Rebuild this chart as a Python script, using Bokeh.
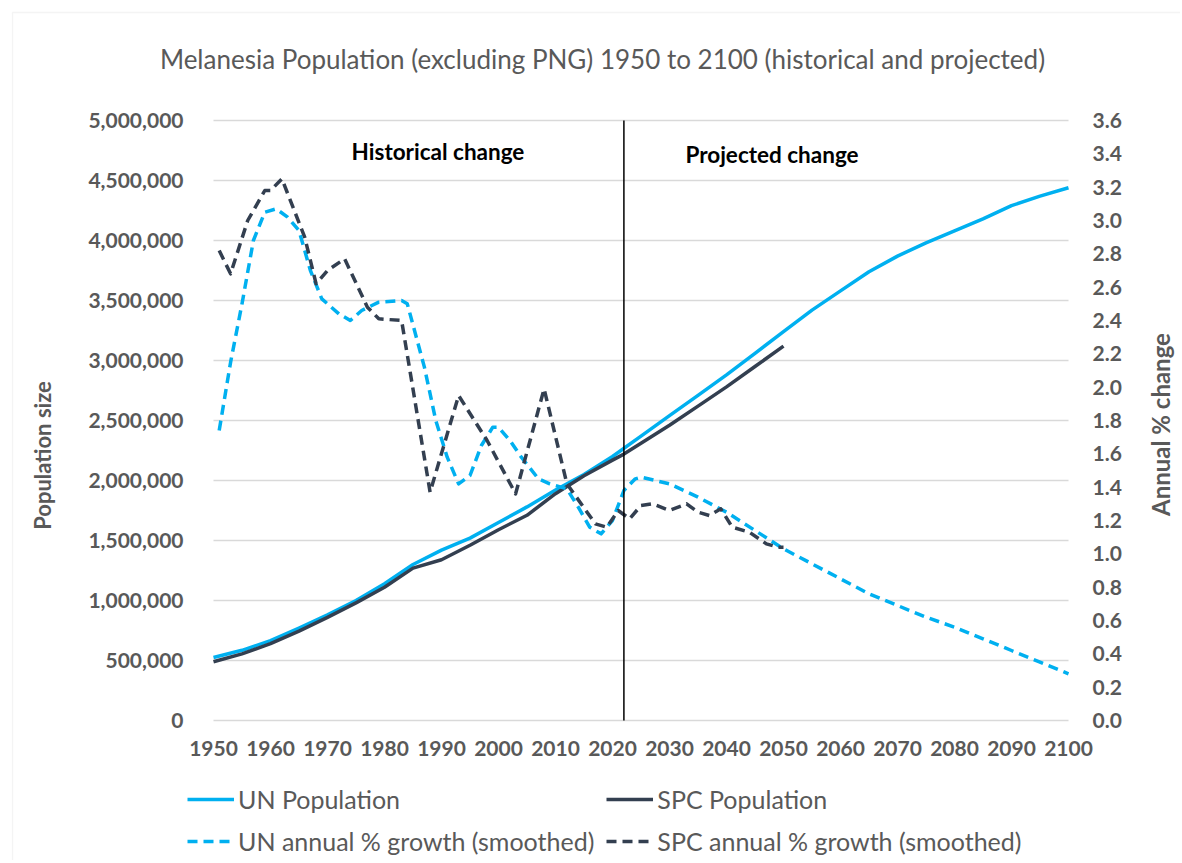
import math
from bokeh.plotting import figure
from bokeh.models import (Range1d, LinearAxis, FixedTicker, NumeralTickFormatter,
                          Label, Legend, LegendItem, BoxAnnotation)
from bokeh.embed import file_html
from bokeh.resources import INLINE

TITLE = "Melanesia Population (excluding PNG) 1950 to 2100 (historical and projected)"
LEFT_TITLE = "Population size"
RIGHT_TITLE = "Annual % change"

un_pop_years = [1950, 1955, 1960, 1965, 1970, 1975, 1980, 1985, 1990, 1995, 2000, 2005, 2010,
                2015, 2020, 2025, 2030, 2035, 2040, 2045, 2050, 2055, 2060, 2065, 2070, 2075,
                2080, 2085, 2090, 2095, 2100]
un_pop = [525000, 585000, 665000, 770000, 880000, 1000000, 1140000, 1300000, 1420000, 1520000,
          1650000, 1780000, 1920000, 2050000, 2200000, 2370000, 2540000, 2710000, 2880000,
          3060000, 3240000, 3420000, 3580000, 3740000, 3870000, 3980000, 4080000, 4180000,
          4290000, 4370000, 4440000]

spc_pop_years = [1950, 1955, 1960, 1965, 1970, 1975, 1980, 1985, 1990, 1995, 2000, 2005, 2010,
                 2015, 2020, 2022, 2025, 2030, 2035, 2040, 2045, 2050]
spc_pop = [490000, 555000, 640000, 745000, 860000, 980000, 1110000, 1270000, 1340000, 1460000,
           1590000, 1710000, 1890000, 2040000, 2170000, 2220000, 2310000, 2460000, 2620000,
           2780000, 2950000, 3120000]

un_rate_years = [1951, 1953, 1955, 1957, 1959, 1961, 1963, 1965, 1967, 1969, 1972, 1974, 1976,
                 1979, 1983, 1984, 1987, 1989, 1991, 1993, 1995, 1997, 1999, 2000, 2002, 2004,
                 2007, 2009, 2012, 2014, 2016, 2018, 2020, 2022, 2024, 2025, 2030, 2035, 2040,
                 2045, 2050, 2055, 2060, 2065, 2070, 2075, 2080, 2085, 2090, 2095, 2100]
un_rate = [1.74, 2.15, 2.50, 2.88, 3.05, 3.07, 3.02, 2.94, 2.70, 2.53, 2.44, 2.40, 2.46,
           2.51, 2.52, 2.50, 2.12, 1.80, 1.58, 1.42, 1.47, 1.65, 1.76, 1.76, 1.68, 1.58,
           1.45, 1.42, 1.39, 1.28, 1.16, 1.12, 1.20, 1.38, 1.45, 1.46, 1.42, 1.34, 1.25,
           1.14, 1.03, 0.94, 0.85, 0.76, 0.69, 0.62, 0.56, 0.49, 0.42, 0.35, 0.28]

spc_rate_years = [1951, 1953, 1956, 1959, 1960, 1962, 1966, 1968, 1970, 1973, 1977, 1979, 1983,
                  1988, 1993, 1998, 2003, 2008, 2012, 2017, 2019, 2021, 2023, 2025, 2027, 2030,
                  2033, 2035, 2037, 2039, 2041, 2044, 2047, 2049, 2050]
spc_rate = [2.82, 2.68, 3.00, 3.18, 3.18, 3.25, 2.90, 2.62, 2.70, 2.77, 2.48, 2.41, 2.40,
            1.37, 1.95, 1.68, 1.36, 1.99, 1.42, 1.18, 1.16, 1.26, 1.21, 1.29, 1.30, 1.26,
            1.30, 1.25, 1.23, 1.27, 1.16, 1.13, 1.06, 1.04, 1.04]

x_ticks = list(range(1950, 2101, 10))
left_ticks = list(range(0, 5000001, 500000))
right_ticks = [round(i * 0.2, 1) for i in range(19)]
divider_year = 2022

series_labels = ["UN Population", "SPC Population",
                 "UN annual % growth (smoothed)", "SPC annual % growth (smoothed)"]

UN_BLUE = "#00B0F0"
SPC_NAVY = "#333F50"
GREY = "#595959"
GRID = "#D9D9D9"
FONT = "Lato"
LW = 3.5
DASH = "10 6"

# ---- canvas geometry (pixels): the plotting area sits at x 213..1068, y 120..720 ----
W, H = 1180, 860
AREA_L, AREA_R, AREA_T, AREA_B = 213, 1068, 120, 720
X0, X1 = x_ticks[0], x_ticks[-1]
Y1 = left_ticks[-1]
R1 = right_ticks[-1]
px_year = (AREA_R - AREA_L) / (X1 - X0)
pop_px = Y1 / (AREA_B - AREA_T)
rate_px = R1 / (AREA_B - AREA_T)

x_range = Range1d(X0 - AREA_L / px_year, X1 + (W - AREA_R) / px_year)
y_range = Range1d(-(H - AREA_B) * pop_px, Y1 + AREA_T * pop_px)
rate_range = Range1d(-(H - AREA_B) * rate_px, R1 + AREA_T * rate_px)


def px_to_year(px):
    return X0 + (px - AREA_L) / px_year


def px_to_pop(py):
    return (AREA_B - py) * pop_px


def px_to_rate(py):
    return (AREA_B - py) * rate_px


p = figure(width=W, height=H, x_range=x_range, y_range=y_range,
           output_backend="svg", toolbar_location=None, min_border=0)
p.extra_y_ranges = {"rate": rate_range}
p.outline_line_color = None
p.background_fill_color = "white"
p.border_fill_color = "white"
p.title.visible = False

# light chart-area border (top and left edges visible, as in the source image)
p.add_layout(BoxAnnotation(left=px_to_year(12), top=px_to_pop(12),
                           right=x_range.end + 50, bottom=y_range.start - 2000000,
                           fill_alpha=0, line_color=GRID, line_width=1.3))

xa = p.xaxis[0]
xa.ticker = FixedTicker(ticks=x_ticks)
xa.fixed_location = 0
ya = p.yaxis[0]
ya.ticker = FixedTicker(ticks=left_ticks)
ya.formatter = NumeralTickFormatter(format="0,0")
ya.fixed_location = X0
ra = LinearAxis(y_range_name="rate", ticker=FixedTicker(ticks=right_ticks),
                formatter=NumeralTickFormatter(format="0.0"), fixed_location=X1)
p.add_layout(ra, "right")

for ax in (xa, ya, ra):
    ax.axis_line_color = None
    ax.major_tick_line_color = None
    ax.minor_tick_line_color = None
    ax.major_tick_out = 0
    ax.major_tick_in = 0
    ax.minor_tick_out = 0
    ax.major_label_text_font = FONT
    ax.major_label_text_font_size = "21px"
    ax.major_label_text_font_style = "bold"
    ax.major_label_text_color = GREY
xa.major_label_standoff = 20
ya.major_label_standoff = 30
ra.major_label_standoff = 24

p.xgrid.visible = False
yg = p.ygrid[0]
if "cross_bounds" in yg.properties():
    yg.cross_bounds = (X0, X1)
    yg.grid_line_color = GRID
    yg.grid_line_width = 1.3
else:
    yg.visible = False
    p.segment(x0=[X0] * len(left_ticks), x1=[X1] * len(left_ticks),
              y0=left_ticks, y1=left_ticks, line_color=GRID, line_width=1.3)

r_un = p.line(un_pop_years, un_pop, line_color=UN_BLUE, line_width=LW, line_join="round")
r_spc = p.line(spc_pop_years, spc_pop, line_color=SPC_NAVY, line_width=LW, line_join="round")
r_unr = p.line(un_rate_years, un_rate, line_color=UN_BLUE, line_width=LW, line_dash=DASH,
               line_join="round", y_range_name="rate")
r_spcr = p.line(spc_rate_years, spc_rate, line_color=SPC_NAVY, line_width=LW, line_dash=DASH,
                line_join="round", y_range_name="rate")

# divider between historical and projected periods
p.segment(x0=[divider_year], x1=[divider_year], y0=[left_ticks[0]], y1=[Y1],
          line_color="black", line_width=1.5)

p.add_layout(Label(x=px_to_year(437.5), y=px_to_pop(151), text="Historical change",
                   text_align="center", text_baseline="middle", text_font=FONT,
                   text_font_size="22.5px", text_font_style="bold", text_color="black"))
p.add_layout(Label(x=px_to_year(771.5), y=px_to_pop(154), text="Projected change",
                   text_align="center", text_baseline="middle", text_font=FONT,
                   text_font_size="22.5px", text_font_style="bold", text_color="black"))

# chart title and axis titles
p.add_layout(Label(x=px_to_year(602), y=px_to_pop(58), text=TITLE, text_align="center",
                   text_baseline="middle", text_font=FONT, text_font_size="26px",
                   text_color=GREY))
p.add_layout(Label(x=px_to_year(42), y=px_to_pop(455), text=LEFT_TITLE, angle=math.pi / 2,
                   text_align="center", text_baseline="middle", text_font=FONT,
                   text_font_size="22px", text_font_style="bold", text_color=GREY))
p.add_layout(Label(x=px_to_year(1160), y=px_to_rate(424), y_range_name="rate",
                   text=RIGHT_TITLE, angle=math.pi / 2, text_align="center",
                   text_baseline="middle", text_font=FONT, text_font_size="24px",
                   text_font_style="bold", text_color=GREY))

legend = Legend(items=[LegendItem(label=series_labels[0], renderers=[r_un]),
                       LegendItem(label=series_labels[1], renderers=[r_spc]),
                       LegendItem(label=series_labels[2], renderers=[r_unr]),
                       LegendItem(label=series_labels[3], renderers=[r_spcr])],
                orientation="horizontal", ncols=2, location=(187, 4),
                glyph_width=47, glyph_height=20, label_standoff=4, spacing=12,
                padding=0, margin=0, border_line_color=None, background_fill_alpha=0,
                label_text_font=FONT, label_text_font_size="25px", label_text_color=GREY)
p.add_layout(legend, "center")

open("out.html", "w").write(file_html(p, INLINE))
